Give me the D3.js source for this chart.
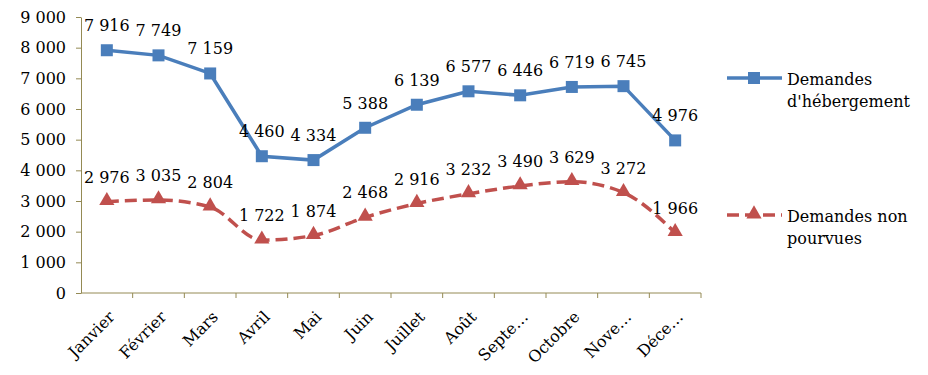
<!DOCTYPE html>
<html lang="fr">
<head>
<meta charset="utf-8">
<script src="https://d3js.org/d3.v7.min.js"></script>
<style>
    body { margin: 0; background: #fff; }
    svg text { font-family: "DejaVu Serif", "Liberation Serif", serif; fill: #000; }
</style>
</head>
<body>
<div id="chart"></div>
<script>
    const months = ["Janvier", "Février", "Mars", "Avril", "Mai", "Juin", "Juillet", "Août", "Septe…", "Octobre", "Nove…", "Déce…"];
    const hebergement = [7916, 7749, 7159, 4460, 4334, 5388, 6139, 6577, 6446, 6719, 6745, 4976];
    const nonPourvues = [2976, 3035, 2804, 1722, 1874, 2468, 2916, 3232, 3490, 3629, 3272, 1966];
    const yTicks = [0, 1000, 2000, 3000, 4000, 5000, 6000, 7000, 8000, 9000];

    var width = 928, height = 375;
    var plotLeft = 81, plotRight = 701, plotTop = 17, plotBottom = 293;
    var axisColor = "#948A54", blue = "#4A7EBB", red = "#C0504D";

    var fmt = d => d3.format(",")(d).replace(/,/g, " ");

    var svg = d3.select("#chart").append("svg")
        .attr("width", width)
        .attr("height", height);

    var x = d3.scaleBand().domain(months).range([plotLeft, plotRight]);
    var y = d3.scaleLinear().domain([0, 9000]).range([plotBottom, plotTop]);

    // y axis
    var yAxis = svg.append("g")
        .attr("transform", "translate(" + plotLeft + ",0)")
        .call(d3.axisLeft(y).tickValues(yTicks).tickSize(5).tickSizeOuter(0).tickPadding(10).tickFormat(fmt));
    yAxis.select(".domain").attr("stroke", axisColor);
    yAxis.selectAll("line").attr("stroke", axisColor);
    yAxis.selectAll("text").style("font-size", "16px");

    // x axis: ticks at band boundaries
    var xg = svg.append("g").attr("transform", "translate(0," + plotBottom + ")");
    xg.append("line").attr("x1", plotLeft).attr("x2", plotRight).attr("stroke", axisColor);
    xg.selectAll(".tk").data(months).enter().append("line")
        .attr("x1", d => x(d) + x.bandwidth()).attr("x2", d => x(d) + x.bandwidth())
        .attr("y1", 0).attr("y2", 5).attr("stroke", axisColor);
    xg.selectAll(".lbl").data(months).enter().append("text")
        .attr("transform", d => "translate(" + (x(d) + x.bandwidth() / 2 + 1) + ",17) rotate(-45)")
        .attr("text-anchor", "end")
        .attr("dy", "0.7em")
        .style("font-size", "16px")
        .text(d => d);

    var cx = (d, i) => x(months[i]) + x.bandwidth() / 2;

    // series 1
    var line1 = d3.line().x(cx).y(d => y(d));
    svg.append("path").datum(hebergement)
        .attr("d", line1).attr("fill", "none")
        .attr("stroke", blue).attr("stroke-width", 3.5);
    svg.selectAll(".sq").data(hebergement).enter().append("rect")
        .attr("x", (d, i) => cx(d, i) - 6).attr("y", d => y(d) - 6)
        .attr("width", 12).attr("height", 12).attr("fill", blue);

    // series 2 (smoothed)
    var line2 = d3.line().x(cx).y(d => y(d)).curve(d3.curveMonotoneX);
    svg.append("path").datum(nonPourvues)
        .attr("d", line2).attr("fill", "none")
        .attr("stroke", red).attr("stroke-width", 3.5)
        .attr("stroke-dasharray", "12,6");
    var tri = d3.symbol().type(d3.symbolTriangle).size(100);
    svg.selectAll(".tri").data(nonPourvues).enter().append("path")
        .attr("d", tri)
        .attr("transform", (d, i) => "translate(" + cx(d, i) + "," + (y(d) - 1) + ")")
        .attr("fill", red);

    // data labels
    [hebergement, nonPourvues].forEach(function(series) {
        svg.selectAll(null).data(series).enter().append("text")
            .attr("x", cx).attr("y", d => y(d) - 19)
            .attr("text-anchor", "middle")
            .style("font-size", "16px")
            .text(fmt);
    });

    // legend
    var legend = [
        { name: ["Demandes", "d'hébergement"], color: blue, dash: null, y: 78 },
        { name: ["Demandes non", "pourvues"], color: red, dash: "12,6", y: 215 }
    ];
    legend.forEach(function(l, k) {
        var g = svg.append("g");
        g.append("line").attr("x1", 727).attr("x2", 782).attr("y1", l.y).attr("y2", l.y)
            .attr("stroke", l.color).attr("stroke-width", 3.5)
            .attr("stroke-dasharray", l.dash);
        if (k === 0) {
            g.append("rect").attr("x", 748).attr("y", l.y - 6).attr("width", 12).attr("height", 12).attr("fill", l.color);
        } else {
            g.append("path").attr("d", tri).attr("transform", "translate(754," + (l.y - 1) + ")").attr("fill", l.color);
        }
        g.selectAll("text").data(l.name).enter().append("text")
            .attr("x", 787).attr("y", (d, i) => l.y + 7 + i * 22)
            .style("font-size", "16px")
            .text(d => d);
    });
</script>
</body>
</html>
